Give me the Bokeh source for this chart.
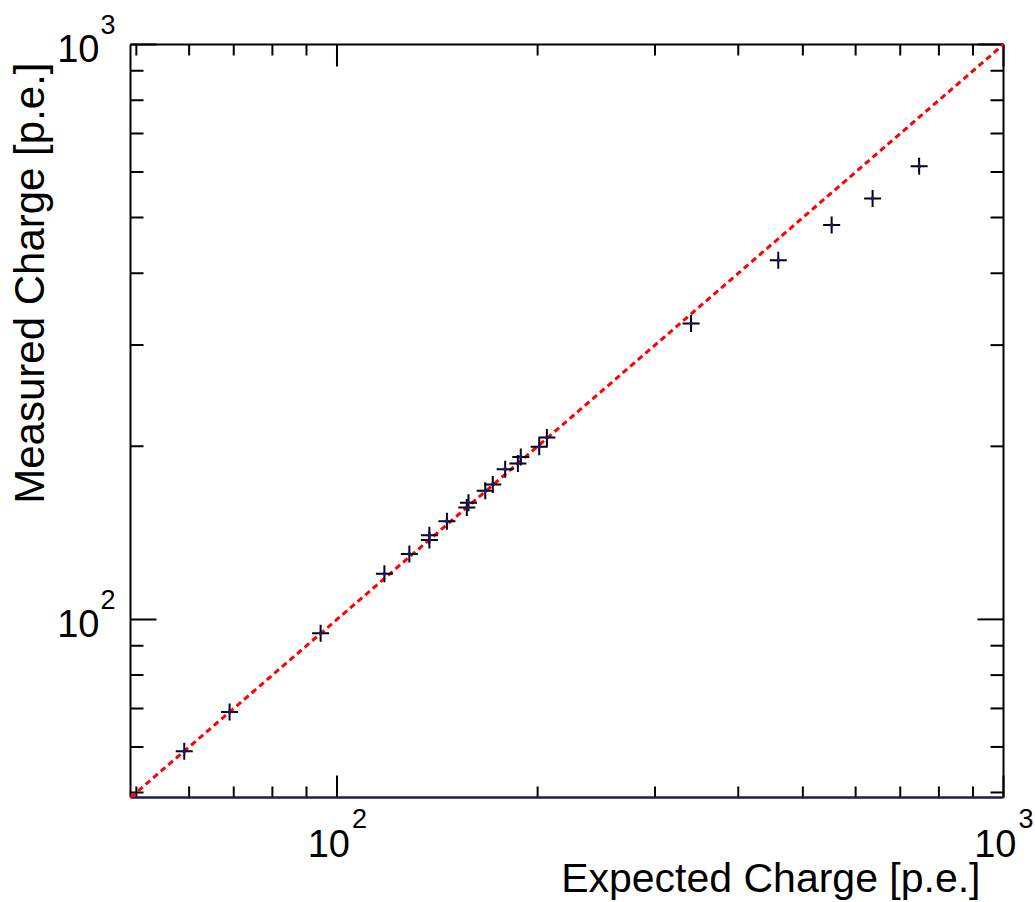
import math

from bokeh.plotting import figure
from bokeh.models import Range1d, Label, ColumnDataSource
from bokeh.embed import file_html
from bokeh.resources import INLINE

# Expected vs. measured charge (photo-electrons)
expected_pe = [59.0, 69.0, 94.5, 117.8, 128.4, 137.6, 137.6, 146.2, 156.6, 157.5,
               166.9, 171.3, 178.8, 186.8, 188.7, 201.1, 206.5, 339.8, 459.3,
               552.3, 636.2, 747.2]
measured_pe = [59.0, 69.0, 94.6, 120.0, 129.9, 140.1, 137.4, 148.2, 156.6, 159.5,
               167.4, 171.7, 182.5, 186.7, 191.7, 199.6, 207.3, 327.2, 421.6,
               485.1, 539.8, 614.3]

axis_min, axis_max = 49, 1000
major_ticks = [100, 1000]
minor_ticks = [50, 60, 70, 80, 90, 200, 300, 400, 500, 600, 700, 800, 900]
decade_labels = [(100, "2"), (1000, "3")]
x_title = "Expected Charge [p.e.]"
y_title = "Measured Charge [p.e.]"

FONT = "Liberation Sans"

# canvas and the pixel box of the plotting pad inside it
W, H = 1035, 902
PAD_L, PAD_R, PAD_T, PAD_B = 130, 1003, 44, 797

lo, hi = math.log10(axis_min), math.log10(axis_max)
px_per_dec_x = (PAD_R - PAD_L) / (hi - lo)
px_per_dec_y = (PAD_B - PAD_T) / (hi - lo)

# ranges widened so that [axis_min, axis_max] fills the pad box
x_range = Range1d(10 ** (lo - PAD_L / px_per_dec_x), 10 ** (hi + (W - PAD_R) / px_per_dec_x))
y_range = Range1d(10 ** (lo - (H - PAD_B) / px_per_dec_y), 10 ** (hi + PAD_T / px_per_dec_y))

p = figure(width=W, height=H,
           x_axis_type="log", y_axis_type="log",
           x_range=x_range, y_range=y_range,
           x_axis_location=None, y_axis_location=None,
           toolbar_location=None, output_backend="svg",
           min_border=0, min_border_left=0, min_border_right=0,
           min_border_top=0, min_border_bottom=0,
           background_fill_color="white", border_fill_color="white",
           outline_line_color=None)
p.grid.visible = False


def grow(v, px, per_dec):
    """Value reached by moving px pixels from v along a log axis."""
    return v * 10 ** (px / per_dec)


# ticks pointing inwards on all four sides
X_MAJ, X_MIN, Y_MAJ, Y_MIN = 22, 11, 26, 13
tx0, ty0, tx1, ty1 = [], [], [], []
for ticks, ln_x, ln_y in ((major_ticks, X_MAJ, Y_MAJ), (minor_ticks, X_MIN, Y_MIN)):
    for v in ticks:
        # bottom and top
        tx0 += [v, v]
        tx1 += [v, v]
        ty0 += [axis_min, axis_max]
        ty1 += [grow(axis_min, ln_x, px_per_dec_y), grow(axis_max, -ln_x, px_per_dec_y)]
        # left and right
        ty0 += [v, v]
        ty1 += [v, v]
        tx0 += [axis_min, axis_max]
        tx1 += [grow(axis_min, ln_y, px_per_dec_x), grow(axis_max, -ln_y, px_per_dec_x)]
p.segment(tx0, ty0, tx1, ty1, line_color="black", line_width=2)

# pad frame: left, top, right in black, bottom axis line in dark navy
p.segment([axis_min, axis_min, axis_max], [axis_min, axis_max, axis_max],
          [axis_min, axis_max, axis_max], [axis_max, axis_max, axis_min],
          line_color="black", line_width=2)
p.segment([axis_min], [axis_min], [axis_max], [axis_min],
          line_color="#1c1c4a", line_width=2.5)

# y = x reference line
diag = [axis_min, axis_max]
p.line(diag, diag, line_color="#ff0000", line_width=3, line_dash="6 4")

src = ColumnDataSource(data=dict(x=expected_pe, y=measured_pe))
p.scatter("x", "y", source=src, marker="cross", size=17,
          line_color="#000010", line_width=2)
p.scatter("x", "y", source=src, marker="circle", size=4,
          fill_color="#1a1a80", line_color=None)

# the text renderer sits glyphs ~0.375 em below the requested baseline
DROP = 0.375


def add_text(x, y, text, size, align, xo, yo, angle=0.0):
    shift = DROP * size
    if angle:
        xo -= shift
    else:
        yo += shift
    p.add_layout(Label(x=x, y=y, x_units="data", y_units="data", text=text,
                       x_offset=xo, y_offset=yo, angle=angle,
                       text_font=FONT, text_font_size=f"{size}px", text_color="black",
                       text_align=align, text_baseline="alphabetic"))


# decade labels 10^n on both axes
for val, exp in decade_labels:
    add_text(val, axis_min, "10", 38, "right", 13, -60)
    add_text(val, axis_min, exp, 27, "left", 15, -31)
    add_text(axis_min, val, "10", 38, "right", -31, -18.5)
    add_text(axis_min, val, exp, 27, "left", -30, 10)

# axis titles, right-aligned at the axis ends
add_text(axis_max, axis_min, x_title, 41, "right", -23, -96)
add_text(axis_min, axis_max, y_title, 42, "right", -85, -18, angle=math.pi / 2)

open("out.html", "w").write(file_html(p, INLINE))
